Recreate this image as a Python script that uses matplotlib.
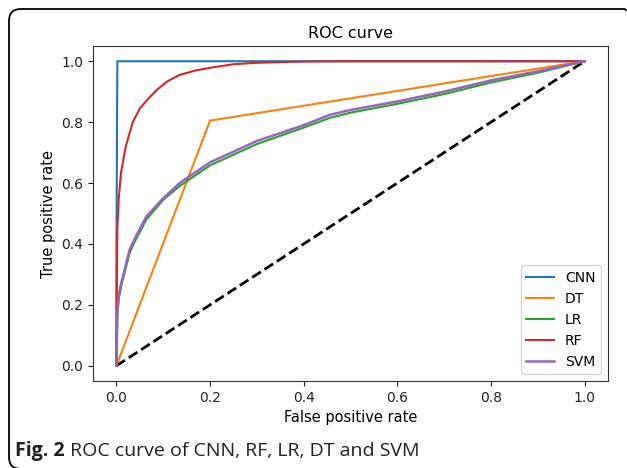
import matplotlib
matplotlib.use("Agg")
import matplotlib.pyplot as plt
from matplotlib.patches import PathPatch
from matplotlib.path import Path
from matplotlib.transforms import IdentityTransform

# ---- data ----
cnn_fpr = [0.0, 0.0, 0.002, 1.0]
cnn_tpr = [0.0, 0.35, 1.0, 1.0]

dt_fpr = [0.0, 0.2, 1.0]
dt_tpr = [0.0, 0.805, 1.0]

rf_fpr = [0.0, 0.0, 0.002, 0.005, 0.01, 0.02, 0.035, 0.05, 0.07, 0.087,
          0.11, 0.135, 0.17, 0.206, 0.25, 0.3, 0.4, 0.5, 0.7, 1.0]
rf_tpr = [0.0, 0.08, 0.45, 0.55, 0.636, 0.72, 0.80, 0.845, 0.88, 0.907,
          0.935, 0.955, 0.97, 0.98, 0.99, 0.995, 0.999, 1.0, 1.0, 1.0]

svm_fpr = [0.0, 0.001, 0.002, 0.005, 0.01, 0.02, 0.028, 0.04, 0.064, 0.1,
           0.135, 0.2, 0.3, 0.4, 0.456, 0.5, 0.6, 0.7, 0.8, 0.9, 1.0]
svm_tpr = [0.0, 0.10, 0.18, 0.23, 0.27, 0.33, 0.38, 0.42, 0.49, 0.55,
           0.60, 0.668, 0.738, 0.79, 0.824, 0.84, 0.868, 0.90, 0.937, 0.967, 1.0]

lr_fpr = svm_fpr
lr_tpr = [0.0, 0.06, 0.16, 0.22, 0.26, 0.32, 0.37, 0.41, 0.48, 0.545,
          0.59, 0.658, 0.728, 0.782, 0.814, 0.831, 0.86, 0.892, 0.93, 0.962, 1.0]

models = ["CNN", "DT", "LR", "RF", "SVM"]
caption_bold = "Fig. 2"
caption_rest = " ROC curve of CNN, RF, LR, DT and SVM"

# ---- figure ----
W, H, DPI = 627, 468, 100
fig = plt.figure(figsize=(W / DPI, H / DPI), dpi=DPI)
ax = fig.add_axes([93 / W, 1 - 381 / H, (608 - 93) / W, (381 - 46) / H])

ax.plot([0, 1], [0, 1], "k--", lw=2)
ax.plot(cnn_fpr, cnn_tpr, color="#1f77b4", lw=1.5, label=models[0])
ax.plot(dt_fpr, dt_tpr, color="#ff7f0e", lw=1.5, label=models[1])
ax.plot(lr_fpr, lr_tpr, color="#2ca02c", lw=1.5, label=models[2])
ax.plot(rf_fpr, rf_tpr, color="#d62728", lw=1.5, label=models[3])
ax.plot(svm_fpr, svm_tpr, color="#9467bd", lw=1.8, label=models[4])

ax.set_xticks([0.0, 0.2, 0.4, 0.6, 0.8, 1.0])
ax.set_yticks([0.0, 0.2, 0.4, 0.6, 0.8, 1.0])
ax.tick_params(labelsize=10, colors="#222222")
ax.set_xlabel("False positive rate", fontsize=10.5)
ax.set_ylabel("True positive rate", fontsize=10.5)
ax.set_title("ROC curve", fontsize=11.5)
ax.legend(loc="lower right", fontsize=10)
for s in ax.spines.values():
    s.set_color("#333333")

# border frame: open path (left side with rounded corners + top), cropped right/bottom
r = 12
xl, yb, yt, xr = 9, -1, 459, 624
verts = [(xl + r, yb), (xl, yb), (xl, yb + r),
         (xl, yt - r), (xl, yt), (xl + r, yt),
         (xr, yt), (xr + 2, yt), (xr + 2, yt - 2)]
codes = [Path.MOVETO, Path.CURVE3, Path.CURVE3,
         Path.LINETO, Path.CURVE3, Path.CURVE3,
         Path.LINETO, Path.CURVE3, Path.CURVE3]
frame = PathPatch(Path(verts, codes), transform=IdentityTransform(), fill=False,
                  ec="black", lw=1.3, clip_on=False)
fig.add_artist(frame)

# caption
t1 = fig.text(15 / W, 1 - 456 / H, caption_bold, fontsize=14, fontweight="bold",
              family=["Open Sans", "DejaVu Sans"], va="baseline", ha="left",
              color="#231f20")
fig.canvas.draw()
bb = t1.get_window_extent()
fig.text(bb.x1 / W, 1 - 456 / H, caption_rest, fontsize=14,
         family=["Open Sans", "DejaVu Sans"], va="baseline", ha="left",
         color="#231f20")

fig.savefig("out.png", dpi=DPI)
